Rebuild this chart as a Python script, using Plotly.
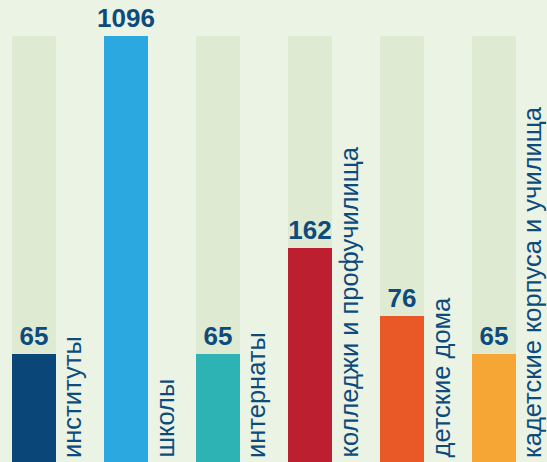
import plotly.graph_objects as go

categories = ["институты", "школы", "интернаты", "колледжи и профучилища", "детские дома",
              "кадетские корпуса и училища"]
values = [65, 1096, 65, 162, 76, 65]
# drawn bar lengths, in % of the full background column
bar_levels = [25.4, 100, 25.4, 50.2, 34.3, 25.4]
full_level = 100
colors = ["#0a4677", "#2ca8e1", "#2db3b3", "#bc1f2f", "#e95827", "#f6a634"]

TEXT = "#0d4b7c"
FONT = "Liberation Sans, Arial, sans-serif"

fig = go.Figure()
fig.add_trace(go.Bar(x=categories, y=[full_level] * len(categories), marker_color="#dfead2",
                     marker_line_width=0, width=0.478, hoverinfo="skip"))
fig.add_trace(go.Bar(x=categories, y=bar_levels, marker_color=colors, marker_line_width=0,
                     width=0.478, text=[str(v) for v in values], textposition="outside",
                     constraintext="none",
                     textfont=dict(family=FONT, size=26, color=TEXT, weight="bold"),
                     cliponaxis=False))

for c in categories:
    fig.add_annotation(x=c, y=0, xref="x", yref="y", text=c, textangle=-90, showarrow=False,
                       xanchor="center", yanchor="bottom", xshift=38, yshift=2,
                       font=dict(family=FONT, size=25.5, color=TEXT))

fig.update_layout(
    width=547, height=462, margin=dict(l=0, r=0, t=0, b=0),
    paper_bgcolor="#ebf3e4", plot_bgcolor="#ebf3e4",
    barmode="overlay", showlegend=False, bargap=0,
    xaxis=dict(range=[-0.3696, 5.5761], visible=False, showgrid=False),
    yaxis=dict(range=[0, 108.45], visible=False, showgrid=False),
)
fig.write_html("out.html", config={"displayModeBar": False},
               post_script="document.body.style.margin='0';document.body.style.overflow='hidden';")
